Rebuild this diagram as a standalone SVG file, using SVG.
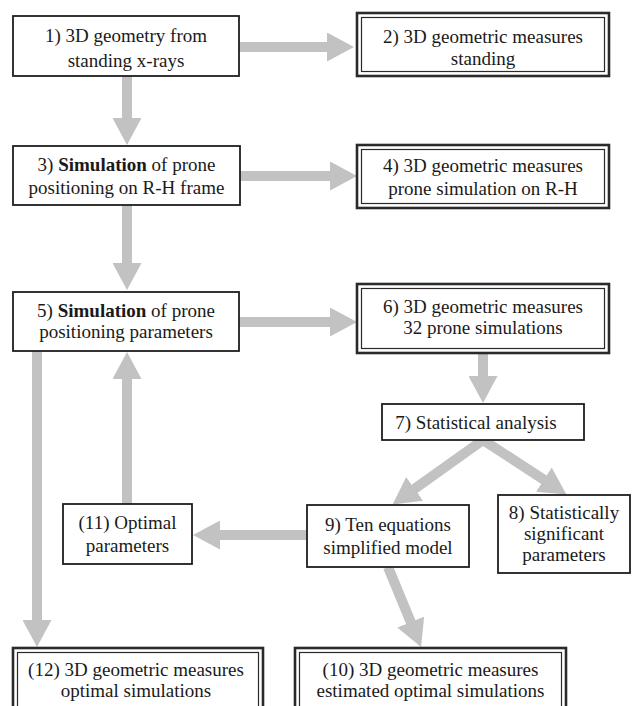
<svg xmlns="http://www.w3.org/2000/svg" width="632" height="706" viewBox="0 0 632 706">
<style>
.box{fill:#fff;stroke:#1e1e1e;stroke-width:1.8}
.dbl{fill:#fff;stroke:#2a2a2a;stroke-width:2.6}
.dbli{fill:none;stroke:#2a2a2a;stroke-width:1.2}
.t{font-family:'Liberation Serif','Times New Roman','DejaVu Serif',serif;font-size:19px;fill:#1a1a1a;text-anchor:middle}
.b{font-weight:bold}
.c{stroke:#c2c2c2;stroke-width:10;fill:none;marker-end:url(#ah)}
</style>
<defs>
<marker id="ah" markerUnits="userSpaceOnUse" markerWidth="28" markerHeight="29" viewBox="0 0 28 29" refX="7" refY="14.5" orient="auto">
<path d="M0,0 L27,14.5 L0,29 Z" fill="#c2c2c2"/>
</marker>
</defs>
<g id="connectors">
<line class="c" x1="239" y1="47" x2="334" y2="47"/>
<line class="c" x1="127" y1="76" x2="127" y2="125"/>
<line class="c" x1="240" y1="176" x2="337" y2="176"/>
<line class="c" x1="127" y1="205" x2="127" y2="270"/>
<line class="c" x1="239" y1="322" x2="337" y2="322"/>
<line class="c" x1="483" y1="353" x2="483" y2="383"/>
<line class="c" x1="483" y1="440" x2="408.9" y2="492.9"/>
<line class="c" x1="483" y1="440" x2="549.7" y2="483.5"/>
<line class="c" x1="388" y1="567" x2="413.4" y2="628.5"/>
<line class="c" x1="307" y1="535" x2="213" y2="535"/>
<line class="c" x1="127" y1="504" x2="127" y2="372"/>
<line class="c" x1="37" y1="351" x2="37" y2="627"/>
</g>
<g id="n1"><rect class="box" x="13" y="16" width="226" height="60"/><text class="t" font-family="Liberation Serif, serif" x="126" y="42">1) 3D geometry from</text><text class="t" x="126" y="67">standing x-rays</text></g>
<g id="n2"><rect class="dbl" x="357" y="13" width="252" height="63"/><rect class="dbli" x="361.5" y="17.5" width="243" height="54"/><text class="t" x="483" y="43">2) 3D geometric measures</text><text class="t" x="483" y="65">standing</text></g>
<g id="n3"><rect class="box" x="13" y="146" width="227" height="59"/><text class="t" x="126.5" y="171"><tspan>3) </tspan><tspan class="b">Simulation</tspan><tspan> of prone</tspan></text><text class="t" x="126.5" y="194">positioning on R-H frame</text></g>
<g id="n4"><rect class="dbl" x="357" y="145" width="252" height="63"/><rect class="dbli" x="361.5" y="149.5" width="243" height="54"/><text class="t" x="483" y="172">4) 3D geometric measures</text><text class="t" x="483" y="195">prone simulation on R-H</text></g>
<g id="n5"><rect class="box" x="13" y="292" width="226" height="59"/><text class="t" x="126" y="317"><tspan>5) </tspan><tspan class="b">Simulation</tspan><tspan> of prone</tspan></text><text class="t" x="126" y="338">positioning parameters</text></g>
<g id="n6"><rect class="dbl" x="357" y="284" width="252" height="69"/><rect class="dbli" x="361.5" y="288.5" width="243" height="60"/><text class="t" x="483" y="313">6) 3D geometric measures</text><text class="t" x="483" y="334">32 prone simulations</text></g>
<g id="n7"><rect class="box" x="382" y="404" width="202" height="36"/><text class="t" x="476" y="429">7) Statistical analysis</text></g>
<g id="n8"><rect class="box" x="498" y="495" width="132" height="78"/><text class="t" x="564" y="519">8) Statistically</text><text class="t" x="564" y="540">significant</text><text class="t" x="564" y="561">parameters</text></g>
<g id="n9"><rect class="box" x="307" y="505" width="162" height="62"/><text class="t" x="388" y="531">9) Ten equations</text><text class="t" x="388" y="554">simplified model</text></g>
<g id="n11"><rect class="box" x="63" y="504" width="129" height="60"/><text class="t" x="127.5" y="529">(11) Optimal</text><text class="t" x="127.5" y="552">parameters</text></g>
<g id="n12"><rect class="dbl" x="13" y="648" width="250" height="70"/><rect class="dbli" x="17.5" y="652.5" width="241" height="70"/><text class="t" x="136" y="676">(12) 3D geometric measures</text><text class="t" x="136" y="697">optimal simulations</text></g>
<g id="n10"><rect class="dbl" x="295" y="648" width="271" height="70"/><rect class="dbli" x="299.5" y="652.5" width="262" height="70"/><text class="t" x="430.5" y="676">(10) 3D geometric measures</text><text class="t" x="430.5" y="697">estimated optimal simulations</text></g>
</svg>
